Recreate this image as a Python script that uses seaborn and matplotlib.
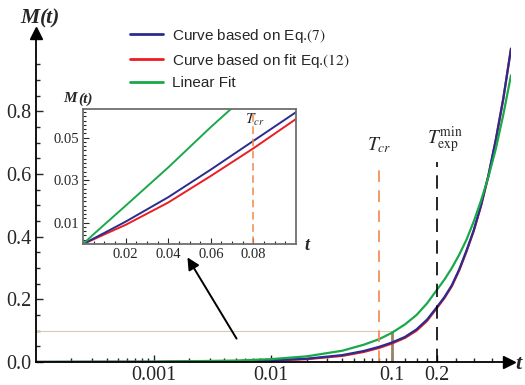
import numpy as np
import matplotlib
matplotlib.use("Agg")
import matplotlib.pyplot as plt
import seaborn as sns
from matplotlib.ticker import FixedLocator, NullFormatter

# values
t = [0.0001, 0.001, 0.005, 0.01, 0.02, 0.04, 0.06, 0.08, 0.1, 0.125, 0.15,
     0.175, 0.2, 0.22, 0.24, 0.26, 0.28, 0.30, 0.32, 0.34, 0.36, 0.38, 0.4]
m_eq7 = [0.00005, 0.0005, 0.0026, 0.0052, 0.0105, 0.022, 0.035, 0.0485, 0.062,
         0.080, 0.104, 0.135, 0.175, 0.207, 0.245, 0.295, 0.355, 0.42, 0.50,
         0.595, 0.71, 0.842, 1.0]
m_fit12 = [0.00004, 0.0004, 0.0022, 0.0045, 0.009, 0.0195, 0.032, 0.045, 0.0588,
           0.077, 0.100, 0.131, 0.172, 0.204, 0.242, 0.292, 0.352, 0.418, 0.498,
           0.593, 0.708, 0.84, 1.0]
m_linear = [0.00009, 0.0009, 0.0046, 0.0091, 0.018, 0.036, 0.055, 0.073, 0.093,
            0.12, 0.15, 0.187, 0.23, 0.263, 0.30, 0.342, 0.39, 0.448, 0.515,
            0.59, 0.68, 0.79, 0.915]

labels = ["Curve based on Eq.$\\mathrm{(7)}$",
          "Curve based on fit Eq.$\\mathrm{(12)}$",
          "Linear Fit"]
colors = ["#2a2c8e", "#ec1c24", "#1aa84a"]

t_cr = 0.08
t_exp = 0.2
zoom_t = 0.1
zoom_m = 0.1

x_major = [0.001, 0.01, 0.1, 0.2]
x_major_labels = ["0.001", "0.01", "0.1", "0.2"]
x_minor = [k * 10.0 ** e for e in (-4, -3, -2) for k in range(2, 10)] + \
          [0.125, 0.15, 0.175, 0.25, 0.3, 0.35]

sns.set_style("ticks")
plt.rcParams["mathtext.fontset"] = "stix"
plt.rcParams["font.family"] = ["Liberation Serif", "DejaVu Serif"]


# log-like axis, slightly stretched at the top end like the original
def fwd(x):
    x = np.clip(np.asarray(x, dtype=float), 1e-12, None)
    return np.log10(x) + 2.75 * x ** 2


_grid_t = np.logspace(-12, 1, 20000)
_grid_u = fwd(_grid_t)


def inv(u):
    return np.interp(u, _grid_u, _grid_t)


fig = plt.figure(figsize=(5.25, 3.85), dpi=100)
ax = fig.add_axes([36 / 525, 23 / 385, 475 / 525, 329 / 385])

series = [m_eq7, m_fit12, m_linear]
# red underneath blue, as in the original
for i in (1, 0, 2):
    sns.lineplot(x=t, y=series[i], ax=ax, color=colors[i], lw=1.6,
                 label=labels[i], estimator=None)

ax.set_xscale("function", functions=(fwd, inv))
ax.set_xlim(0.0001, 0.4)
ax.set_ylim(0, 1.05)

# zoom box and the marker lines
ax.hlines(zoom_m, 0.0001, zoom_t, color="#d8c9b6", lw=0.8, zorder=1)
ax.vlines(zoom_t, 0, zoom_m, color="#9a8266", lw=2, zorder=1)
ax.vlines(t_cr, 0, 0.634, color="#f08a4b", lw=1.2, linestyles=(0, (7, 5)))
ax.vlines(t_exp, 0, 0.637, color="black", lw=1.2, linestyles=(0, (8, 5)))
ax.text(t_cr, 0.66, "$T_{cr}$", fontsize=14, ha="center", va="bottom")
ax.text(0.222, 0.66, "$T_{\\mathrm{exp}}^{\\mathrm{min}}$", fontsize=14,
        ha="center", va="bottom")

ax.xaxis.set_major_locator(FixedLocator(x_major))
ax.set_xticklabels(x_major_labels)
ax.xaxis.set_minor_locator(FixedLocator(x_minor))
ax.xaxis.set_minor_formatter(NullFormatter())
ax.set_yticks([0, 0.2, 0.4, 0.6, 0.8])
ax.set_yticklabels(["0.0", "0.2", "0.4", "0.6", "0.8"])
ax.set_yticks(np.arange(0.05, 1.0, 0.05), minor=True)
ax.tick_params(which="both", direction="in", labelsize=14.5, pad=3, width=1)
ax.tick_params(which="major", length=5)
ax.tick_params(which="minor", length=3)
ax.set_xlabel("")
ax.set_ylabel("")

sns.despine(ax=ax)
for s in ("left", "bottom"):
    ax.spines[s].set_linewidth(1.3)
    ax.spines[s].set_color("black")

ax.plot([0], [1.0], marker="^", ms=9, color="black", transform=ax.transAxes,
        clip_on=False)
ax.plot([0.995], [0], marker=">", ms=9, color="black", transform=ax.transAxes,
        clip_on=False)
fig.text(39 / 525, 1 - 18 / 385, "M", fontsize=15.5, fontweight="bold",
         fontstyle="italic", ha="right", va="center")
fig.text(40 / 525, 1 - 18 / 385, "(t)", fontsize=15.5, fontweight="bold",
         fontstyle="italic", ha="left", va="center")
fig.text(518 / 525, 1 - 364 / 385, "t", fontsize=16, fontweight="bold",
         fontstyle="italic", ha="center", va="center")

handles, _ = ax.get_legend_handles_labels()
order = [1, 0, 2]
leg = ax.legend([handles[k] for k in order], labels, loc="upper left",
                bbox_to_anchor=(122 / 525, 1 - 19 / 385),
                bbox_transform=fig.transFigure, frameon=False, borderpad=0,
                handlelength=2.2, handletextpad=0.6, labelspacing=0.45,
                prop={"family": ["Liberation Sans"], "size": 11})
for h in leg.get_lines():
    h.set_linewidth(2)

# inset
ax_in = fig.add_axes([83 / 525, 141 / 385, 213 / 525, 135 / 385])
for i in (1, 0, 2):
    sns.lineplot(x=t, y=series[i], ax=ax_in, color=colors[i], lw=1.4,
                 estimator=None, legend=False)
ax_in.vlines(t_cr, 0, 0.0635, color="#f08a4b", lw=1.1, linestyles=(0, (5, 3)))
ax_in.text(0.0808, 0.0545, "$T_{cr}$", fontsize=11, ha="center", va="bottom")
ax_in.set_xlim(0, 0.1)
ax_in.set_ylim(0, 0.0635)
ax_in.set_xticks([0.02, 0.04, 0.06, 0.08])
ax_in.set_xticklabels(["0.02", "0.04", "0.06", "0.08"])
ax_in.set_xticks(np.arange(0.005, 0.1, 0.005), minor=True)
ax_in.set_yticks([0.01, 0.03, 0.05])
ax_in.set_yticklabels(["0.01", "0.03", "0.05"])
ax_in.set_yticks(np.arange(0.002, 0.063, 0.002), minor=True)
ax_in.tick_params(which="both", direction="in", labelsize=10.5, pad=3,
                  width=0.8, top=False, right=False)
ax_in.tick_params(which="major", length=4)
ax_in.tick_params(which="minor", length=2.5)
ax_in.set_xlabel("")
ax_in.set_ylabel("")
for s in ax_in.spines.values():
    s.set_color("#6e6e6e")
    s.set_linewidth(1.3)
fig.text(77 / 525, 1 - 99 / 385, "M", fontsize=11, fontweight="bold",
         fontstyle="italic", ha="right", va="center")
fig.text(78 / 525, 1 - 99 / 385, "(t)", fontsize=11, fontweight="bold",
         fontstyle="italic", ha="left", va="center")
fig.text(307 / 525, 1 - 245 / 385, "t", fontsize=13, fontweight="bold",
         fontstyle="italic", ha="center", va="center")

# arrow pointing from the zoom box up to the inset
fig.add_artist(matplotlib.patches.FancyArrowPatch(
    (238, 44), (186, 130), transform=None, arrowstyle="-|>",
    mutation_scale=18, lw=1.4, color="black"))

fig.savefig("out.png", dpi=100)
